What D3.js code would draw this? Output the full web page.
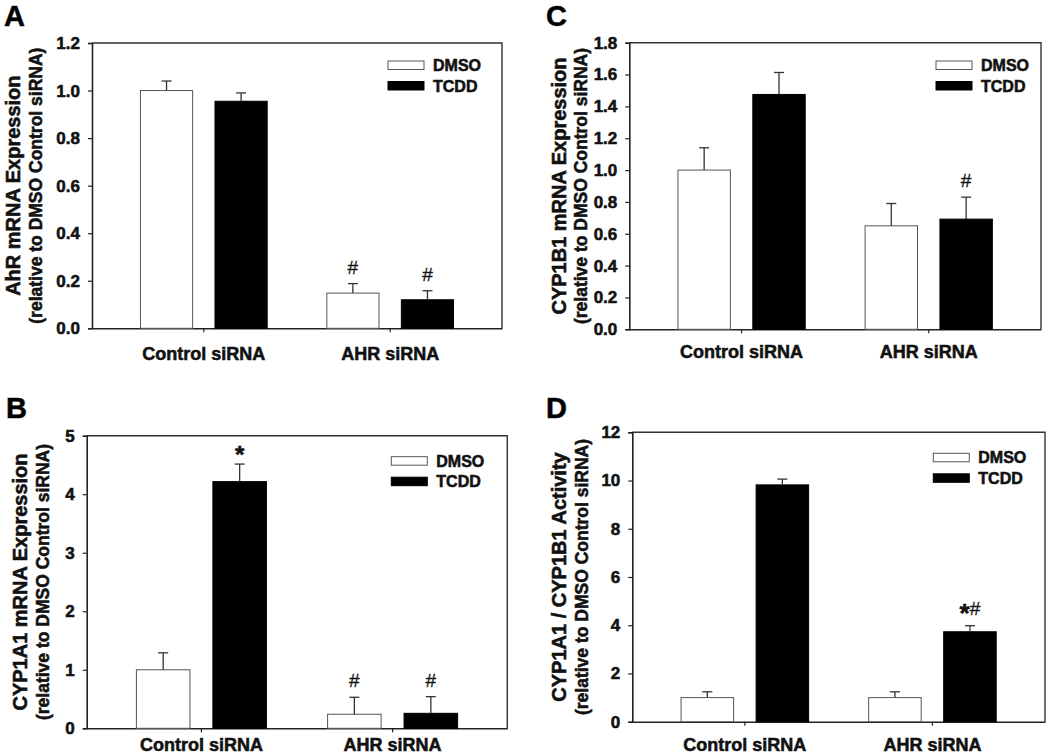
<!DOCTYPE html>
<html>
<head>
<meta charset="utf-8">
<script src="https://cdn.jsdelivr.net/npm/d3@7"></script>
<style>
  html, body { margin: 0; padding: 0; background: #fff; }
  svg { display: block; }
  text { font-family: "Liberation Sans", Arial, sans-serif; }
  .heavy { stroke: #111; stroke-width: 0.55px; }
</style>
</head>
<body>
<svg id="chart" width="1050" height="754"></svg>
<script>
// ---------- data ----------
const categories = ["Control siRNA", "AHR siRNA"];
const series = ["DMSO", "TCDD"];

// Panel A: AhR mRNA
const aDmso = [1.0, 0.148];
const aDmsoErr = [0.04, 0.04];
const aTcdd = [0.955, 0.12];
const aTcddErr = [0.035, 0.038];
const aTicks = [0, 0.2, 0.4, 0.6, 0.8, 1.0, 1.2];

// Panel B: CYP1A1 mRNA
const bDmso = [1.0, 0.24];
const bDmsoErr = [0.29, 0.29];
const bTcdd = [4.215, 0.256];
const bTcddErr = [0.30, 0.285];
const bTicks = [0, 1, 2, 3, 4, 5];

// Panel C: CYP1B1 mRNA
const cDmso = [1.0, 0.65];
const cDmsoErr = [0.14, 0.14];
const cTcdd = [1.475, 0.692];
const cTcddErr = [0.138, 0.138];
const cTicks = [0, 0.2, 0.4, 0.6, 0.8, 1.0, 1.2, 1.4, 1.6, 1.8];

// Panel D: CYP1A1 / CYP1B1 activity
const dDmso = [1.0, 1.0];
const dDmsoErr = [0.24, 0.24];
const dTcdd = [9.82, 3.73];
const dTcddErr = [0.24, 0.25];
const dTicks = [0, 2, 4, 6, 8, 10, 12];

// significance marks: [category index, series index, text]
const aMarks = [[1, 0, "#"], [1, 1, "#"]];
const bMarks = [[0, 1, "*"], [1, 0, "#"], [1, 1, "#"]];
const cMarks = [[1, 1, "#"]];
const dMarks = [[1, 1, "*#"]];

// ---------- layout ----------
const panels = [
  { id: "A", dmso: aDmso, dmsoErr: aDmsoErr, tcdd: aTcdd, tcddErr: aTcddErr, ticks: aTicks, fmt: ".1f", marks: aMarks,
    title: "AhR mRNA Expression",
    box: { l: 92, r: 502, t: 43, b: 328.3 }, label: [4, 26], t1x: 13, t2x: 36, catY: 360, leg: [114, 18] },
  { id: "C", dmso: cDmso, dmsoErr: cDmsoErr, tcdd: cTcdd, tcddErr: cTcddErr, ticks: cTicks, fmt: ".1f", marks: cMarks,
    title: "CYP1B1 mRNA Expression",
    box: { l: 629.3, r: 1041, t: 42.7, b: 329.3 }, label: [546, 26], t1x: 559, t2x: 581, catY: 358, leg: [105, 18.3] },
  { id: "B", dmso: bDmso, dmsoErr: bDmsoErr, tcdd: bTcdd, tcddErr: bTcddErr, ticks: bTicks, fmt: "d", marks: bMarks,
    title: "CYP1A1 mRNA Expression",
    box: { l: 86.7, r: 507.3, t: 435.7, b: 728.3 }, label: [6, 418], t1x: 20, t2x: 43, catY: 751, leg: [116, 21] },
  { id: "D", dmso: dDmso, dmsoErr: dDmsoErr, tcdd: dTcdd, tcddErr: dTcddErr, ticks: dTicks, fmt: "d", marks: dMarks,
    title: "CYP1A1 / CYP1B1 Activity",
    box: { l: 632.3, r: 1045, t: 432.3, b: 721.7 }, label: [546, 418], t1x: 559, t2x: 582, catY: 751, leg: [111.7, 21] }
];
const subtitle = "(relative to DMSO Control siRNA)";

const svg = d3.select("#chart");

panels.forEach(p => {
  const B = p.box;
  const g = svg.append("g");
  const y = d3.scaleLinear().domain([p.ticks[0], p.ticks[p.ticks.length - 1]]).range([B.b, B.t]);
  const x0 = d3.scaleBand().domain(categories).range([B.l, B.r]).paddingInner(0).paddingOuter(0.1);
  const x1 = d3.scaleBand().domain(series).range([0, x0.bandwidth()]).paddingInner(0.3).paddingOuter(0.4);

  // frame top/right
  g.append("path")
    .attr("d", `M${B.l},${B.t}H${B.r}V${B.b}`)
    .attr("fill", "none").attr("stroke", "#333").attr("stroke-width", 1.4);

  // y axis
  const yAxis = d3.axisLeft(y).tickValues(p.ticks).tickFormat(d3.format(p.fmt)).tickSize(4).tickPadding(8);
  const ya = g.append("g").attr("transform", `translate(${B.l},0)`).call(yAxis);
  ya.select(".domain").attr("stroke", "#222").attr("stroke-width", 1.6);
  ya.selectAll(".tick line").attr("stroke", "#222").attr("stroke-width", 1.2);
  ya.selectAll(".tick text").attr("font-size", 17).attr("font-weight", "bold").attr("fill", "#111")
    .attr("class", "heavy")
    .attr("font-family", "'Liberation Sans', Arial, sans-serif");

  // x axis
  const xAxis = d3.axisBottom(x0).tickSize(4).tickSizeOuter(0).tickFormat("");
  const xa = g.append("g").attr("transform", `translate(0,${B.b})`).call(xAxis);
  xa.select(".domain").attr("stroke", "#222").attr("stroke-width", 1.6);
  xa.selectAll(".tick line").attr("stroke", "#222").attr("stroke-width", 1.2);

  // category labels
  g.selectAll(".cat").data(categories).enter().append("text")
    .attr("class", "heavy")
    .attr("x", d => x0(d) + x0.bandwidth() / 2)
    .attr("y", p.catY)
    .attr("text-anchor", "middle")
    .attr("font-size", 18).attr("font-weight", "bold").attr("fill", "#111")
    .text(d => d);

  // bars
  const rows = [];
  categories.forEach((c, i) => {
    rows.push({ c, s: "DMSO", v: p.dmso[i], e: p.dmsoErr[i] });
    rows.push({ c, s: "TCDD", v: p.tcdd[i], e: p.tcddErr[i] });
  });
  const bx = d => x0(d.c) + x1(d.s);
  g.selectAll(".bar").data(rows).enter().append("rect")
    .attr("x", bx)
    .attr("y", d => y(d.v))
    .attr("width", x1.bandwidth())
    .attr("height", d => y(0) - y(d.v))
    .attr("fill", d => d.s === "DMSO" ? "#fff" : "#000")
    .attr("stroke", d => d.s === "DMSO" ? "#555" : "#000")
    .attr("stroke-width", 1);

  // error bars (upper only)
  const eb = g.selectAll(".err").data(rows).enter().append("g")
    .attr("stroke", "#333").attr("stroke-width", 1.3);
  eb.append("line")
    .attr("x1", d => bx(d) + x1.bandwidth() / 2).attr("x2", d => bx(d) + x1.bandwidth() / 2)
    .attr("y1", d => y(d.v)).attr("y2", d => y(d.v + d.e));
  eb.append("line")
    .attr("x1", d => bx(d) + x1.bandwidth() / 2 - 5).attr("x2", d => bx(d) + x1.bandwidth() / 2 + 5)
    .attr("y1", d => y(d.v + d.e)).attr("y2", d => y(d.v + d.e));

  // significance marks
  p.marks.forEach(m => {
    const c = categories[m[0]], s = series[m[1]];
    const v = m[1] === 0 ? p.dmso[m[0]] : p.tcdd[m[0]];
    const e = m[1] === 0 ? p.dmsoErr[m[0]] : p.tcddErr[m[0]];
    const cx = x0(c) + x1(s) + x1.bandwidth() / 2;
    const top = y(v + e);
    const t = g.append("text").attr("x", cx).attr("text-anchor", "middle").attr("fill", "#111");
    if (m[2] === "*") {
      t.attr("y", top - 1).attr("font-size", 24).attr("font-weight", "bold").attr("class", "heavy").text("*");
    } else if (m[2] === "#") {
      t.attr("y", top - 10).attr("font-size", 19).attr("stroke", "#111").attr("stroke-width", 0.3).text("#");
    } else {
      t.attr("y", top - 11);
      t.append("tspan").attr("font-size", 26).attr("font-weight", "bold").attr("class", "heavy").attr("dy", 7).text("*");
      t.append("tspan").attr("font-size", 19).attr("stroke", "#111").attr("stroke-width", 0.3).attr("dy", -7).text("#");
    }
  });

  // legend
  const lx = B.r - p.leg[0], ly = B.t + p.leg[1];
  series.forEach((s, i) => {
    g.append("rect")
      .attr("x", lx).attr("y", ly + i * 20.5)
      .attr("width", 36).attr("height", 8.5)
      .attr("fill", s === "DMSO" ? "#fff" : "#000")
      .attr("stroke", s === "DMSO" ? "#555" : "#000").attr("stroke-width", 1);
    g.append("text")
      .attr("class", "heavy")
      .attr("x", lx + 45).attr("y", ly + i * 20.5 + 4.25)
      .attr("dy", "0.36em")
      .attr("font-size", 16).attr("font-weight", "bold").attr("fill", "#111")
      .text(s);
  });

  // y titles
  const cy = (B.t + B.b) / 2;
  g.append("text")
    .attr("class", "heavy")
    .attr("transform", `translate(${p.t1x},${cy}) rotate(-90)`)
    .attr("text-anchor", "middle").attr("dy", "0.35em")
    .attr("font-size", 20).attr("font-weight", "bold").attr("fill", "#111")
    .text(p.title);
  g.append("text")
    .attr("class", "heavy")
    .attr("transform", `translate(${p.t2x},${cy}) rotate(-90)`)
    .attr("text-anchor", "middle").attr("dy", "0.35em")
    .attr("font-size", 17.5).attr("font-weight", "bold").attr("fill", "#111")
    .text(subtitle);

  // panel label
  svg.append("text")
    .attr("class", "heavy")
    .attr("x", p.label[0]).attr("y", p.label[1])
    .attr("font-size", 29).attr("font-weight", "bold").attr("fill", "#000")
    .text(p.id);
});
</script>
</body>
</html>
